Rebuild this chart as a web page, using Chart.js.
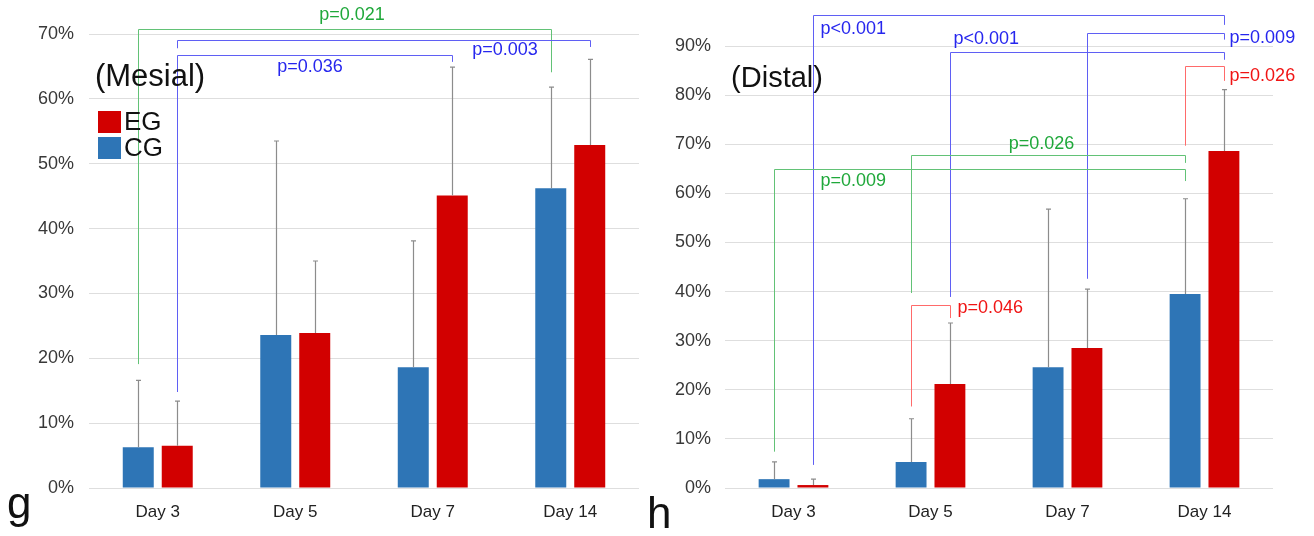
<!DOCTYPE html>
<html>
<head>
<meta charset="utf-8">
<script src="https://cdn.jsdelivr.net/npm/chart.js@4.4.1/dist/chart.umd.min.js"></script>
<style>
  html, body { margin: 0; padding: 0; background: #fff; }
  #wrap { display: flex; width: 1314px; height: 536px; }
  canvas { display: block; }
</style>
</head>
<body>
<div id="wrap">
  <canvas id="mesial" width="645" height="536"></canvas>
  <canvas id="distal" width="669" height="536"></canvas>
</div>
<script>
// categories
const days = ['Day 3', 'Day 5', 'Day 7', 'Day 14'];

// mean values (%)
const mesialCG = [6.3, 23.6, 18.6, 46.2];
const mesialEG = [6.5, 23.9, 45.1, 52.9];
const distalCG = [1.8, 5.3, 24.6, 39.5];
const distalEG = [0.6, 21.2, 28.5, 68.6];

// upper end of the error bars (%)
const mesialCGErr = [16.6, 53.5, 38.1, 61.8];
const mesialEGErr = [13.4, 35.0, 64.9, 66.1];
const distalCGErr = [5.3, 14.1, 56.8, 58.9];
const distalEGErr = [1.8, 33.6, 40.5, 81.1];

// significance brackets: [day, series(0=CG,1=EG), low end %], top %, label, label spot [day, %, align]
const mesialBrackets = [
  { a: [0, 0, 19.1], b: [3, 0, 64.1], top: 70.7, text: 'p=0.021', col: 'green', at: [1.413, 72.9, 'center'] },
  { a: [0, 1, 67.8], b: [3, 1, 68.0], top: 69.0, text: 'p=0.003', col: 'blue', at: [2.525, 67.5, 'center'] },
  { a: [0, 1, 14.8], b: [2, 1, 65.7], top: 66.8, text: 'p=0.036', col: 'blue', at: [1.107, 64.9, 'center'] }
];
const distalBrackets = [
  { a: [0, 1, 4.7], b: [3, 1, 94.3], top: 96.3, text: 'p<0.001', col: 'blue', at: [0.197, 93.5, 'left'] },
  { a: [1, 1, 38.9], b: [3, 1, 87.2], top: 88.8, text: 'p<0.001', col: 'blue', at: [1.168, 91.4, 'left'] },
  { a: [2, 1, 42.6], b: [3, 1, 91.3], top: 92.7, text: 'p=0.009', col: 'blue', at: [3.183, 91.6, 'left'] },
  { a: [3, 0, 69.7], b: [3, 1, 82.9], top: 86.0, text: 'p=0.026', col: 'red', at: [3.183, 83.9, 'left'] },
  { a: [1, 0, 39.7], b: [3, 0, 66.2], top: 67.9, text: 'p=0.026', col: 'green', at: [1.81, 70.1, 'center'] },
  { a: [0, 0, 7.4], b: [3, 0, 62.5], top: 65.0, text: 'p=0.009', col: 'green', at: [0.197, 62.5, 'left'] },
  { a: [1, 0, 16.6], b: [1, 1, 34.6], top: 37.3, text: 'p=0.046', col: 'red', at: [1.197, 36.7, 'left'] }
];

const FONT = "'Liberation Sans', Arial, sans-serif";
const lineCol = { green: '#62c276', blue: '#5f5ff4', red: '#ff6a6a' };
const textCol = { green: '#1fa83a', blue: '#2626ee', red: '#f01414' };

// draws error bars, brackets, titles and the little legend
function extras(opts) {
  return {
    id: 'extras',
    afterDatasetsDraw(chart) {
      const ctx = chart.ctx;
      const xs = chart.scales.x, ys = chart.scales.y;
      const px = (d, s) => chart.getDatasetMeta(s).data[d].x;

      ctx.save();
      // error bars
      ctx.strokeStyle = '#8c8c8c';
      ctx.lineWidth = 1.2;
      [opts.cgErr, opts.egErr].forEach((errs, s) => {
        const vals = s === 0 ? opts.cg : opts.eg;
        errs.forEach((e, d) => {
          const x = Math.round(px(d, s)) + 0.5;
          const y0 = ys.getPixelForValue(vals[d]);
          const y1 = ys.getPixelForValue(e);
          ctx.beginPath();
          ctx.moveTo(x, y0); ctx.lineTo(x, y1);
          ctx.moveTo(x - 2.5, y1); ctx.lineTo(x + 2.5, y1);
          ctx.stroke();
        });
      });

      // brackets
      ctx.lineWidth = 1;
      opts.brackets.forEach(b => {
        const xa = Math.round(px(b.a[0], b.a[1])) + 0.5;
        const xb = Math.round(px(b.b[0], b.b[1])) + 0.5;
        const yt = Math.round(ys.getPixelForValue(b.top)) + 0.5;
        ctx.strokeStyle = lineCol[b.col];
        ctx.beginPath();
        ctx.moveTo(xa, ys.getPixelForValue(b.a[2]));
        ctx.lineTo(xa, yt);
        ctx.lineTo(xb, yt);
        ctx.lineTo(xb, ys.getPixelForValue(b.b[2]));
        ctx.stroke();
        ctx.fillStyle = textCol[b.col];
        ctx.font = '18px ' + FONT;
        ctx.textAlign = b.at[2];
        ctx.textBaseline = 'middle';
        ctx.fillText(b.text, xs.getPixelForValue(b.at[0]), ys.getPixelForValue(b.at[1]));
      });

      // panel title
      ctx.fillStyle = '#111';
      ctx.textAlign = 'center';
      ctx.textBaseline = 'middle';
      ctx.font = opts.titleSize + 'px ' + FONT;
      ctx.fillText(opts.title, opts.titleX, opts.titleY);

      // panel letter
      ctx.textAlign = 'left';
      ctx.textBaseline = 'alphabetic';
      ctx.font = '44px ' + FONT;
      ctx.fillText(opts.letter, opts.letterX, opts.letterY);

      // legend
      if (opts.legend) {
        ctx.font = '26px ' + FONT;
        ctx.textBaseline = 'middle';
        opts.legend.forEach((it, i) => {
          const y = 111 + i * 26;
          ctx.fillStyle = it.color;
          ctx.fillRect(98, y, 23, 22);
          ctx.fillStyle = '#111';
          ctx.fillText(it.label, 124, y + 12);
        });
      }
      ctx.restore();
    }
  };
}

function makeChart(id, o) {
  return new Chart(document.getElementById(id), {
    type: 'bar',
    data: {
      labels: days,
      datasets: [
        { label: 'CG', data: o.cg, backgroundColor: '#2e75b6', categoryPercentage: 0.567, barPercentage: 0.795 },
        { label: 'EG', data: o.eg, backgroundColor: '#d20000', categoryPercentage: 0.567, barPercentage: 0.795 }
      ]
    },
    options: {
      responsive: false,
      animation: false,
      layout: { padding: { top: o.top, right: o.right, left: 0, bottom: 0 } },
      plugins: { legend: { display: false }, tooltip: { enabled: false } },
      scales: {
        x: {
          grid: { display: false, drawTicks: false },
          border: { display: false },
          ticks: { color: '#222', font: { family: FONT, size: 17 }, padding: 14 },
          afterFit: s => { s.height = 48; }
        },
        y: {
          min: 0, max: o.max,
          grid: { color: '#dedede', drawTicks: false },
          border: { display: false },
          ticks: { stepSize: 10, callback: v => v + '%', color: '#383838', font: { family: FONT, size: 18 }, padding: o.tickPad },
          afterFit: s => { s.width = o.yWidth; }
        }
      }
    },
    plugins: [extras(o)]
  });
}

makeChart('mesial', {
  cg: mesialCG, eg: mesialEG, cgErr: mesialCGErr, egErr: mesialEGErr,
  brackets: mesialBrackets, max: 70, top: 34, right: 6, yWidth: 89, tickPad: 15,
  title: '(Mesial)', titleSize: 31, titleX: 150, titleY: 77,
  letter: 'g', letterX: 7, letterY: 518,
  legend: [{ label: 'EG', color: '#d20000' }, { label: 'CG', color: '#2e75b6' }]
});

makeChart('distal', {
  cg: distalCG, eg: distalEG, cgErr: distalCGErr, egErr: distalEGErr,
  brackets: distalBrackets, max: 90, top: 46, right: 41, yWidth: 80, tickPad: 14,
  title: '(Distal)', titleSize: 29, titleX: 132, titleY: 79,
  letter: 'h', letterX: 2, letterY: 528
});
</script>
</body>
</html>
